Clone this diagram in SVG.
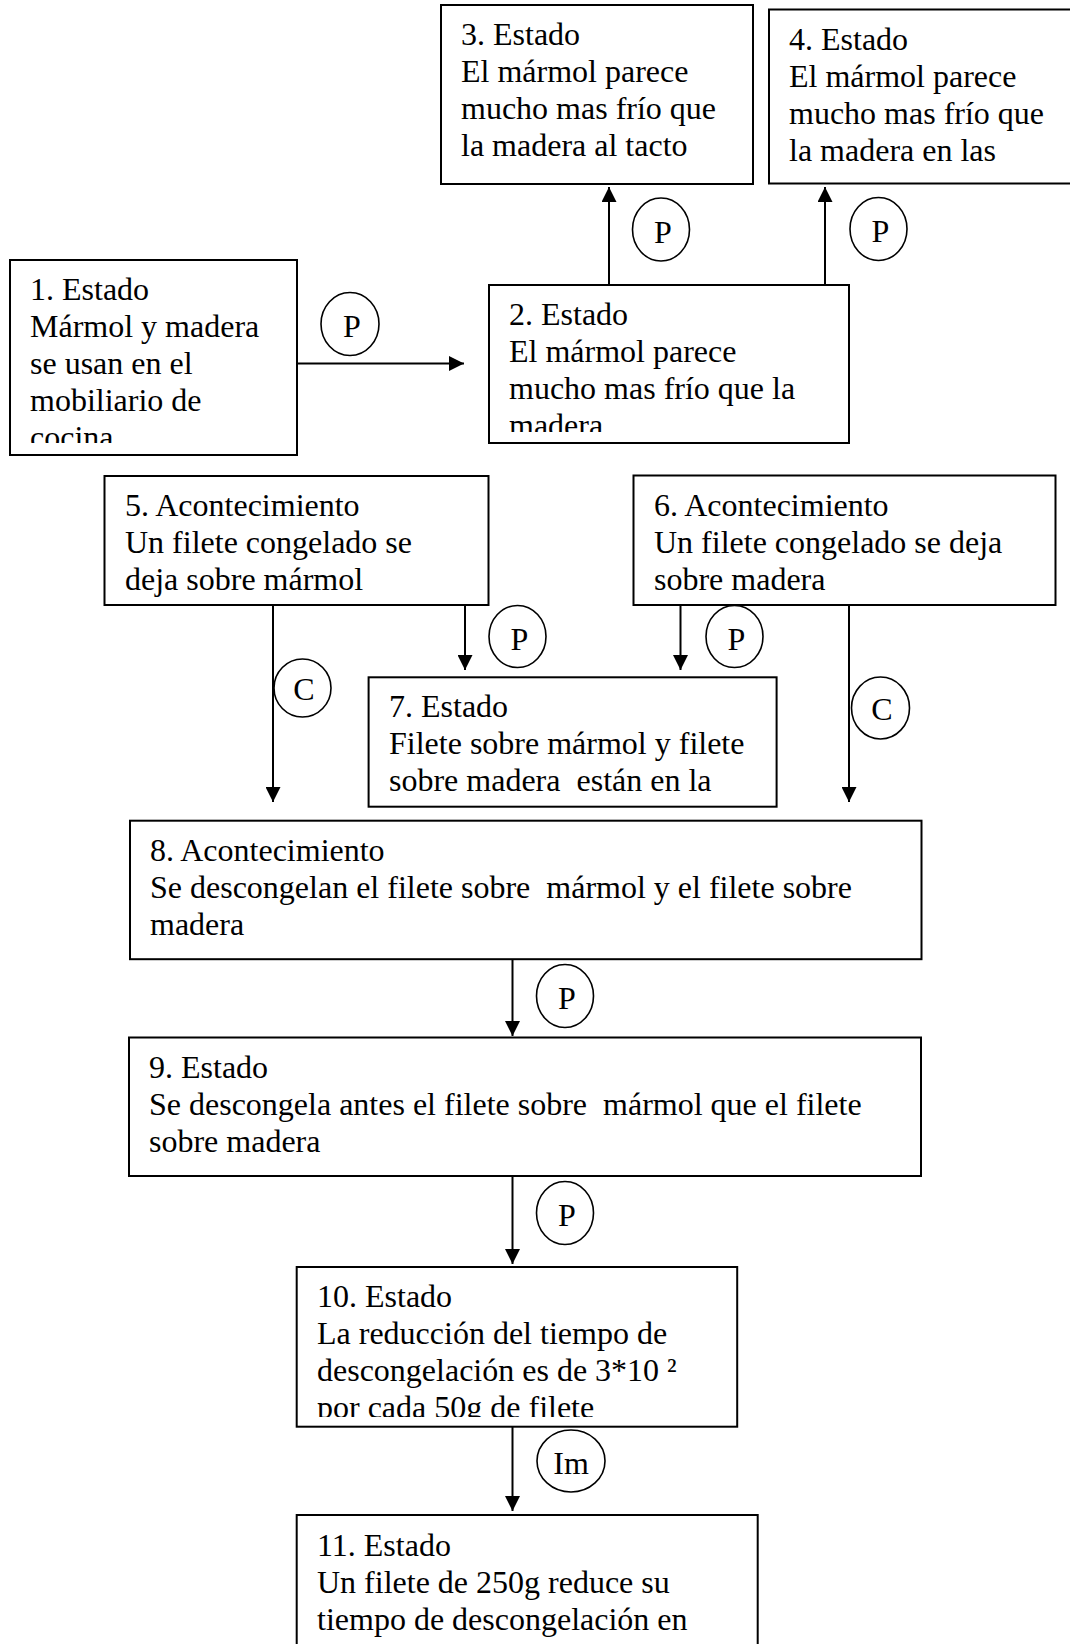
<svg xmlns="http://www.w3.org/2000/svg" width="1070" height="1644" viewBox="0 0 1070 1644">
<style>
  .box { fill: #ffffff; stroke: #000000; stroke-width: 2; }
  .t { font-family: 'Liberation Serif', 'Times New Roman', serif; font-size: 32px; fill: #000000; white-space: pre; }
  .lbl { font-family: 'Liberation Serif', 'Times New Roman', serif; font-size: 32px; fill: #000000; text-anchor: middle; }
  .ring { fill: #ffffff; stroke: #000000; stroke-width: 1.6; }
  .conn { fill: none; stroke: #000000; stroke-width: 2; marker-end: url(#ah); }
</style>
<defs>
  <marker id="ah" markerWidth="15" markerHeight="15" refX="15" refY="7.5" orient="auto" markerUnits="userSpaceOnUse">
    <path d="M0,0 L15,7.5 L0,15 z" fill="#000000"/>
  </marker>
  <clipPath id="clip1"><rect x="10" y="260" width="287" height="183"/></clipPath>
  <clipPath id="clip2"><rect x="489" y="285" width="360" height="147"/></clipPath>
  <clipPath id="clip10"><rect x="296" y="1267" width="441" height="150"/></clipPath>
</defs>
<rect width="1070" height="1644" fill="#ffffff"/>

<g id="connectors">
  <path class="conn" d="M297,363.5 H464"/>
  <path class="conn" d="M609,285 V187"/>
  <path class="conn" d="M825,285 V187"/>
  <path class="conn" d="M273,605 V802"/>
  <path class="conn" d="M465,605 V670"/>
  <path class="conn" d="M680.5,605 V670"/>
  <path class="conn" d="M849,605 V802"/>
  <path class="conn" d="M512.5,959 V1036"/>
  <path class="conn" d="M512.5,1176 V1264"/>
  <path class="conn" d="M512.5,1427 V1511"/>
</g>

<g id="labels">
  <g id="lbl-1-2"><ellipse class="ring" cx="350" cy="324" rx="29" ry="31.5"/><text class="lbl" x="352" y="337">P</text></g>
  <g id="lbl-2-3"><ellipse class="ring" cx="661" cy="229.5" rx="28.5" ry="31.5"/><text class="lbl" x="663" y="242.5">P</text></g>
  <g id="lbl-2-4"><ellipse class="ring" cx="878.5" cy="229" rx="28.5" ry="31.5"/><text class="lbl" x="880.5" y="242">P</text></g>
  <g id="lbl-5-7"><ellipse class="ring" cx="517.5" cy="636.5" rx="28.5" ry="31"/><text class="lbl" x="519.5" y="649.5">P</text></g>
  <g id="lbl-6-7"><ellipse class="ring" cx="734.5" cy="636.5" rx="28.5" ry="31"/><text class="lbl" x="736.5" y="649.5">P</text></g>
  <g id="lbl-5-8"><ellipse class="ring" cx="302.5" cy="688" rx="28.5" ry="29"/><text class="lbl" x="304" y="700">C</text></g>
  <g id="lbl-6-8"><ellipse class="ring" cx="880.5" cy="708" rx="29" ry="31"/><text class="lbl" x="882" y="720">C</text></g>
  <g id="lbl-8-9"><ellipse class="ring" cx="565" cy="996" rx="28.5" ry="31.5"/><text class="lbl" x="567" y="1009">P</text></g>
  <g id="lbl-9-10"><ellipse class="ring" cx="565" cy="1213" rx="28.5" ry="31.5"/><text class="lbl" x="567" y="1226">P</text></g>
  <g id="lbl-10-11"><ellipse class="ring" cx="571" cy="1461" rx="34" ry="31"/><text class="lbl" x="571" y="1474">Im</text></g>
</g>

<g id="node1">
  <rect class="box" x="10" y="260" width="287" height="195"/>
  <g clip-path="url(#clip1)">
    <text class="t" x="30" y="300">1. Estado</text>
    <text class="t" x="30" y="337">Mármol y madera</text>
    <text class="t" x="30" y="374">se usan en el</text>
    <text class="t" x="30" y="411">mobiliario de</text>
    <text class="t" x="30" y="448">cocina</text>
  </g>
</g>

<g id="node2">
  <rect class="box" x="489" y="285" width="360" height="158"/>
  <g clip-path="url(#clip2)">
    <text class="t" x="509" y="325">2. Estado</text>
    <text class="t" x="509" y="362">El mármol parece</text>
    <text class="t" x="509" y="399">mucho mas frío que la</text>
    <text class="t" x="509" y="436">madera</text>
  </g>
</g>

<g id="node3">
  <rect class="box" x="441" y="5" width="312" height="179"/>
  <text class="t" x="461" y="45">3. Estado</text>
  <text class="t" x="461" y="82">El mármol parece</text>
  <text class="t" x="461" y="119">mucho mas frío que</text>
  <text class="t" x="461" y="156">la madera al tacto</text>
</g>

<g id="node4">
  <rect class="box" x="769" y="9.5" width="320" height="174"/>
  <text class="t" x="789" y="50">4. Estado</text>
  <text class="t" x="789" y="87">El mármol parece</text>
  <text class="t" x="789" y="124">mucho mas frío que</text>
  <text class="t" x="789" y="161">la madera en las</text>
</g>

<g id="node5">
  <rect class="box" x="104.5" y="476" width="384" height="129"/>
  <text class="t" x="125" y="516">5. Acontecimiento</text>
  <text class="t" x="125" y="553">Un filete congelado se</text>
  <text class="t" x="125" y="590">deja sobre mármol</text>
</g>

<g id="node6">
  <rect class="box" x="633.5" y="475.5" width="422" height="129.5"/>
  <text class="t" x="654" y="516">6. Acontecimiento</text>
  <text class="t" x="654" y="553">Un filete congelado se deja</text>
  <text class="t" x="654" y="590">sobre madera</text>
</g>

<g id="node7">
  <rect class="box" x="368.6" y="677.3" width="408" height="129.4"/>
  <text class="t" x="389" y="717">7. Estado</text>
  <text class="t" x="389" y="754">Filete sobre mármol y filete</text>
  <text class="t" x="389" y="791">sobre madera  están en la</text>
</g>

<g id="node8">
  <rect class="box" x="130" y="820.7" width="791.5" height="138.5"/>
  <text class="t" x="150" y="861">8. Acontecimiento</text>
  <text class="t" x="150" y="898">Se descongelan el filete sobre  mármol y el filete sobre</text>
  <text class="t" x="150" y="935">madera</text>
</g>

<g id="node9">
  <rect class="box" x="129" y="1037.5" width="792" height="138.5"/>
  <text class="t" x="149" y="1078">9. Estado</text>
  <text class="t" x="149" y="1115">Se descongela antes el filete sobre  mármol que el filete</text>
  <text class="t" x="149" y="1152">sobre madera</text>
</g>

<g id="node10">
  <rect class="box" x="296.7" y="1267" width="440.5" height="159.7"/>
  <g clip-path="url(#clip10)">
    <text class="t" x="317" y="1307">10. Estado</text>
    <text class="t" x="317" y="1344">La reducción del tiempo de</text>
    <text class="t" x="317" y="1381">descongelación es de 3*10 ²</text>
    <text class="t" x="317" y="1418">por cada 50g de filete</text>
  </g>
</g>

<g id="node11">
  <rect class="box" x="296.7" y="1515" width="461" height="200"/>
  <text class="t" x="317" y="1556">11. Estado</text>
  <text class="t" x="317" y="1593">Un filete de 250g reduce su</text>
  <text class="t" x="317" y="1630">tiempo de descongelación en</text>
</g>
</svg>
